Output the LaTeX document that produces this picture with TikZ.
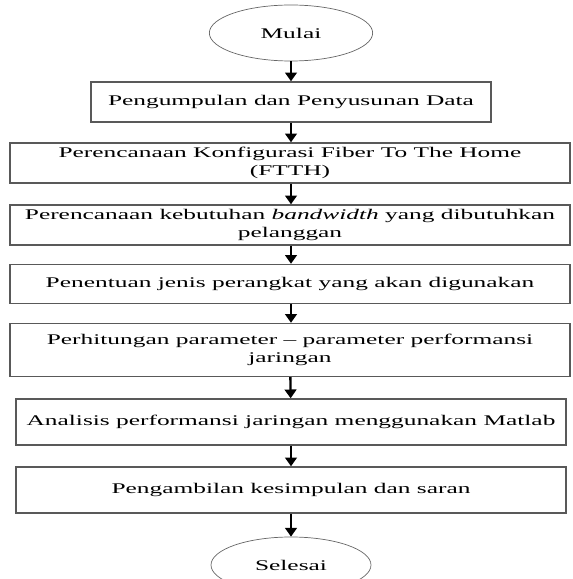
\documentclass[tikz,border=0pt]{standalone}
\usepackage{fontspec}
\setmainfont{Liberation Serif}[FakeStretch=1.72]
\usetikzlibrary{shapes.geometric,arrows.meta}

\begin{document}
\begin{tikzpicture}[
    proc/.style={draw=black!65, line width=1.2pt, minimum height=1.2cm, inner sep=2pt, align=center, font=\fontsize{12.6}{15.5}\selectfont},
    term/.style={ellipse, draw=black!60, line width=0.6pt, minimum width=4.9cm, minimum height=1.68cm, font=\fontsize{12.6}{15.5}\selectfont},
    arr/.style={line width=2pt, -{Triangle[width=10pt,length=7.5pt]}}
    ]
        \useasboundingbox (0,0) rectangle (17.16,17.37);

        \node [term] (A) at (8.73,16.38) {Mulai};
        \node [proc, minimum width=12cm] (B) at (8.73,14.31) {Pengumpulan dan Penyusunan Data};
        \node [proc, minimum width=16.8cm] (C) at (8.70,12.48) {Perencanaan Konfigurasi Fiber To The Home\\(FTTH)};
        \node [proc, minimum width=16.8cm] (D) at (8.70,10.62) {Perencanaan kebutuhan \textit{bandwidth} yang dibutuhkan\\pelanggan};
        \node [proc, minimum width=16.8cm, minimum height=1.17cm] (E) at (8.70,8.85) {Penentuan jenis perangkat yang akan digunakan};
        \node [proc, minimum width=16.8cm, minimum height=1.59cm] (F) at (8.70,6.87) {Perhitungan parameter -- parameter performansi\\jaringan};
        \node [proc, minimum width=16.5cm, minimum height=1.38cm] (G) at (8.73,4.71) {Analisis performansi jaringan menggunakan Matlab};
        \node [proc, minimum width=16.5cm, minimum height=1.38cm] (H) at (8.73,2.67) {Pengambilan kesimpulan dan saran};
        \node [term, minimum width=4.8cm] (I) at (8.73,0.42) {Selesai};

        \draw [arr] (A) -- (B);
        \draw [arr] (B.south -| A) -- (C.north -| A);
        \draw [arr] (C.south -| A) -- (D.north -| A);
        \draw [arr] (D.south -| A) -- (E.north -| A);
        \draw [arr] (E.south -| A) -- (F.north -| A);
        \draw [arr] (F) -- (G);
        \draw [arr] (G) -- (H);
        \draw [arr] (H) -- (I);

    \end{tikzpicture}
\end{document}
